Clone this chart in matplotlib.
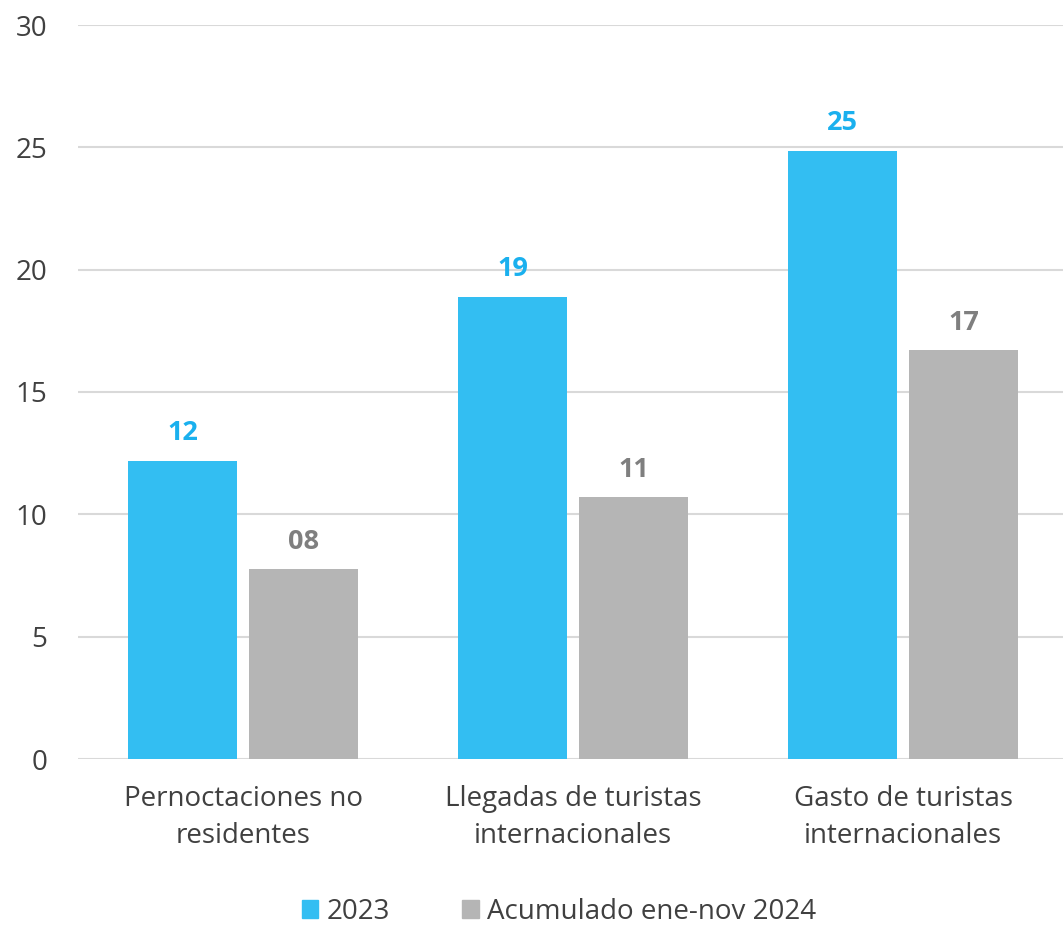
import matplotlib.pyplot as plt
import numpy as np
from matplotlib.patches import Patch

plt.rcParams['font.family'] = ['Open Sans', 'DejaVu Sans']

# Turismo: valores por indicador
categories = ['Pernoctaciones no\nresidentes', 'Llegadas de turistas\ninternacionales',
              'Gasto de turistas\ninternacionales']
series_names = ['2023', 'Acumulado ene-nov 2024']
values_2023 = [12.2, 18.9, 24.85]
values_2024 = [7.75, 10.7, 16.7]

blue = '#33BEF2'
gray = '#B5B5B5'
text_col = '#404040'

fig = plt.figure(figsize=(10.63, 9.25), dpi=100)
ax = fig.add_axes([78 / 1063, 166 / 925, 990 / 1063, 734 / 925])

x = np.arange(len(categories))
w = 0.333
gap = 0.0335
b1 = ax.bar(x - (w + gap) / 2, values_2023, w, color=blue, zorder=2)
b2 = ax.bar(x + (w + gap) / 2, values_2024, w, color=gray, zorder=2)

# etiquetas de valor sobre cada barra
for bars, vals, col in [(b1, values_2023, '#1AB0EE'), (b2, values_2024, '#7F7F7F')]:
    for bar, v in zip(bars, vals):
        ax.text(bar.get_x() + bar.get_width() / 2, v + 0.6, f'{v:02.0f}',
                ha='center', va='bottom', fontsize=19.5, fontweight='bold', color=col)

ax.set_ylim(0, 30)
ax.set_xlim(-0.5, 2.5)
ax.set_yticks(range(0, 31, 5))
ax.set_xticks(x)
ax.set_xticklabels(categories, fontsize=20, color=text_col, linespacing=1.42)
ax.tick_params(axis='y', labelsize=20, labelcolor=text_col, length=0, pad=22)
ax.tick_params(axis='x', length=0, pad=19)
ax.grid(axis='y', color='#D9D9D9', linewidth=1.5, zorder=0)
for s in ax.spines.values():
    s.set_visible(False)

handles = [Patch(color=blue), Patch(color=gray)]
fig.legend(handles, series_names, loc='center', bbox_to_anchor=(0.526, 1 - 912 / 925),
           ncol=2, frameon=False, fontsize=20, labelcolor=text_col,
           handlelength=0.6, handleheight=0.6, handletextpad=0.3, columnspacing=2.6)

fig.savefig('out.png', dpi=100)
